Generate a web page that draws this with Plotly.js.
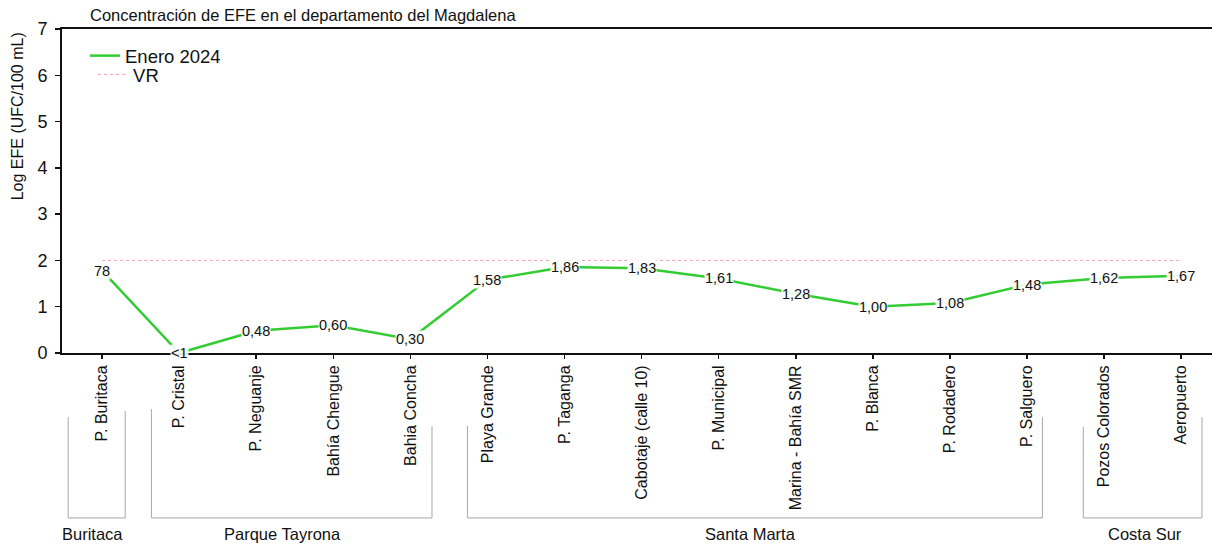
<!DOCTYPE html>
<html>
<head>
<meta charset="utf-8">
<script src="https://cdn.plot.ly/plotly-3.0.1.min.js"></script>
<style>html,body{margin:0;padding:0;background:#fff;}#chart{width:1212px;height:544px;}</style>
</head>
<body>
<div id="chart"></div>
<script>
var categories = ["P. Buritaca", "P. Cristal", "P. Neguanje", "Bahía Chengue", "Bahia Concha",
  "Playa Grande", "P. Taganga", "Cabotaje (calle 10)", "P. Municipal", "Marina - Bahía SMR",
  "P. Blanca", "P. Rodadero", "P. Salguero", "Pozos Colorados", "Aeropuerto"];
var enero2024 = [1.78, 0.00, 0.48, 0.60, 0.30, 1.58, 1.86, 1.83, 1.61, 1.28, 1.00, 1.08, 1.48, 1.62, 1.67];
var labels = ["78", "<1", "0,48", "0,60", "0,30", "1,58", "1,86", "1,83", "1,61", "1,28", "1,00", "1,08", "1,48", "1,62", "1,67"];
var vrValue = [2, 2];
var vrX = [0, 14];
var groups = ["Buritaca", "Parque Tayrona", "Santa Marta", "Costa Sur"];
var yTicks = [0, 1, 2, 3, 4, 5, 6, 7];

var FONT = "Liberation Sans, Arial, sans-serif";
var xIdx = categories.map(function (c, i) { return i; });

var traces = [
  {
    x: xIdx, y: enero2024, type: "scatter", mode: "lines", name: "Enero 2024",
    line: {color: "#33cc33", width: 2.5}, hoverinfo: "skip", legend: "legend"
  },
  {
    x: vrX, y: vrValue, type: "scatter", mode: "lines", name: "VR",
    line: {color: "#f2a0a8", width: 1, dash: "3px,3px"}, hoverinfo: "skip", legend: "legend2"
  }
];

var annotations = xIdx.map(function (i) {
  return {
    x: i, y: enero2024[i], xref: "x", yref: "y", text: labels[i], showarrow: false,
    font: {family: FONT, size: 14.5, color: "#111"}, bgcolor: "rgba(255,255,255,0.9)",
    borderpad: 0, xanchor: "center", yanchor: "middle"
  };
});

// group label positions (x in axis units, y in paper)
var groupX = [-0.13, 2.34, 8.41, 13.53];
groups.forEach(function (g, k) {
  annotations.push({
    x: groupX[k], y: -0.559, xref: "x", yref: "paper", text: g, showarrow: false,
    font: {family: FONT, size: 16.5, color: "#111"}, xanchor: "center", yanchor: "middle"
  });
});

annotations.push({
  x: -0.039, y: 0.731, xref: "paper", yref: "paper", text: "Log EFE (UFC/100 mL)",
  showarrow: false, textangle: -90, font: {family: FONT, size: 16, color: "#111"},
  xanchor: "center", yanchor: "middle"
});

// bracket shapes: [xLeft, xRight, yTopLeft, yTopRight]
var brackets = [
  [-0.44, 0.30, -0.198, -0.179],
  [0.64, 4.28, -0.173, -0.225],
  [4.74, 12.20, -0.225, -0.198],
  [12.73, 14.27, -0.228, -0.198]
];
var yBot = -0.509;
var shapes = [];
brackets.forEach(function (b) {
  var st = {color: "#a8a8a8", width: 1};
  shapes.push({type: "line", xref: "x", yref: "paper", x0: b[0], x1: b[0], y0: b[2], y1: yBot, line: st});
  shapes.push({type: "line", xref: "x", yref: "paper", x0: b[0], x1: b[1], y0: yBot, y1: yBot, line: st});
  shapes.push({type: "line", xref: "x", yref: "paper", x0: b[1], x1: b[1], y0: b[3], y1: yBot, line: st});
});

var legendCommon = {
  xanchor: "left", yanchor: "top", font: {family: FONT, size: 18.5, color: "#111"},
  bgcolor: "rgba(0,0,0,0)", tracegroupgap: 0, itemwidth: 30
};

var layout = {
  width: 1212, height: 544,
  margin: {l: 62, r: 0, t: 29, b: 191},
  paper_bgcolor: "#fff", plot_bgcolor: "#fff",
  font: {family: FONT, color: "#111"},
  title: {
    text: "Concentración de EFE en el departamento del Magdalena",
    font: {family: FONT, size: 16.5, color: "#111"},
    x: (90 - 62) / 1150, xanchor: "left", xref: "paper", y: 1 - 15 / 544, yanchor: "middle", yref: "container"
  },
  showlegend: true,
  legend: Object.assign({x: 0.02, y: 0.975}, legendCommon),
  legend2: Object.assign({x: 0.027, y: 0.917}, legendCommon),
  xaxis: {
    range: [-0.52, 14.4], tickmode: "array", tickvals: xIdx, ticktext: categories,
    tickangle: -90, tickfont: {family: FONT, size: 16, color: "#111"},
    showgrid: false, zeroline: false, showline: true, linecolor: "#111", linewidth: 2,
    mirror: true, ticks: "outside", ticklen: 4, tickcolor: "#111", tickwidth: 1.5
  },
  yaxis: {
    range: [0, 7], tickmode: "array", tickvals: yTicks, ticktext: yTicks.map(String),
    tickfont: {family: FONT, size: 18, color: "#111"}, ticklabelstandoff: 4,
    showgrid: false, zeroline: false, showline: true, linecolor: "#111", linewidth: 2,
    ticks: "outside", ticklen: 5, tickcolor: "#111", tickwidth: 1.5
  },
  annotations: annotations,
  shapes: shapes
};

Plotly.newPlot("chart", traces, layout, {displayModeBar: false, staticPlot: true});
</script>
</body>
</html>
